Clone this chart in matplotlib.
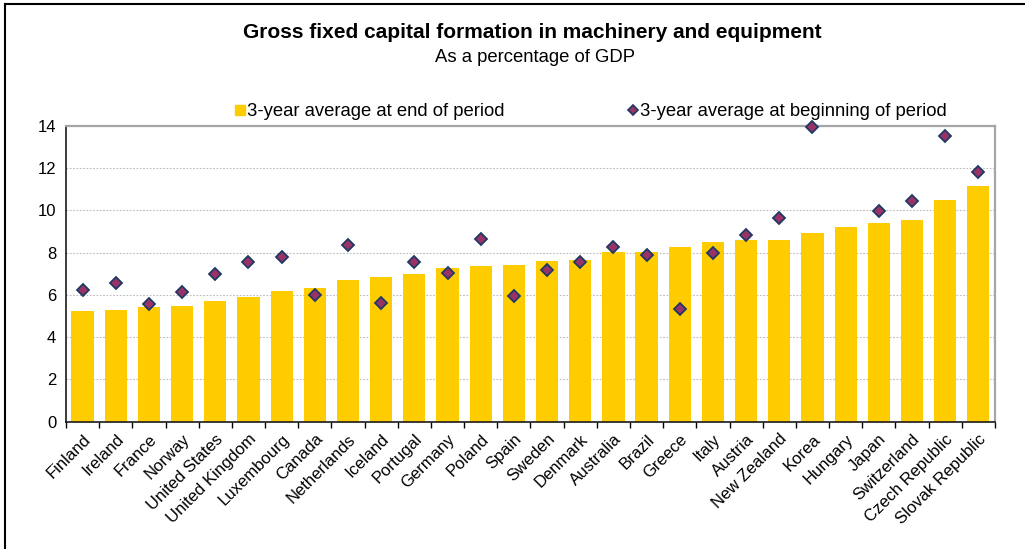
import matplotlib.pyplot as plt
import numpy as np
from matplotlib.lines import Line2D

plt.rcParams['font.family'] = ['Liberation Sans', 'DejaVu Sans']

countries = ['Finland', 'Ireland', 'France', 'Norway', 'United States', 'United Kingdom',
             'Luxembourg', 'Canada', 'Netherlands', 'Iceland', 'Portugal', 'Germany',
             'Poland', 'Spain', 'Sweden', 'Denmark', 'Australia', 'Brazil', 'Greece',
             'Italy', 'Austria', 'New Zealand', 'Korea', 'Hungary', 'Japan',
             'Switzerland', 'Czech Republic', 'Slovak Republic']
# 3-year average at end of period
end_avg = [5.24, 5.29, 5.43, 5.48, 5.71, 5.90, 6.19, 6.33, 6.71, 6.85, 6.99, 7.28,
           7.37, 7.42, 7.61, 7.65, 8.03, 8.03, 8.27, 8.51, 8.60, 8.60, 8.93, 9.22,
           9.41, 9.55, 10.50, 11.16]
# 3-year average at beginning of period (no value for Hungary)
begin_avg = [6.22, 6.55, 5.56, 6.12, 6.99, 7.58, 7.81, 6.01, 8.35, 5.62, 7.54, 7.04,
             8.65, 5.95, 7.18, 7.54, 8.29, 7.89, 5.35, 7.99, 8.85, 9.66, 13.94, np.nan,
             9.99, 10.46, 13.53, 11.82]

bar_col = '#FFCC00'
dia_face = '#993366'
dia_edge = '#1F3864'

fig = plt.figure(figsize=(10.25, 5.49), dpi=100)
ax = fig.add_axes([0.0644, 0.2319, 0.9063, 0.5386])

x = np.arange(len(countries))
ax.bar(x, end_avg, width=0.67, color=bar_col, zorder=2)
ax.plot(x, begin_avg, linestyle='none', marker='D', markersize=5.8,
        markerfacecolor=dia_face, markeredgecolor=dia_edge, markeredgewidth=1.3,
        zorder=3, clip_on=False)

ax.set_xlim(-0.5, len(countries) - 0.5)
ax.set_ylim(0, 14)
ax.set_yticks(range(0, 15, 2))
ax.tick_params(axis='y', length=0, pad=7, labelsize=12)
ax.yaxis.grid(True, linestyle=(0, (1.5, 1.5)), color='#BBBBBB', linewidth=0.8, zorder=0)
ax.set_axisbelow(True)

ax.set_xticks(x)
ax.set_xticklabels(countries, rotation=45, ha='right', va='top',
                   rotation_mode='anchor', fontsize=12)
ax.tick_params(axis='x', which='major', length=0, pad=7)
ax.set_xticks(np.arange(-0.5, len(countries), 1), minor=True)
ax.tick_params(axis='x', which='minor', length=4, width=1, direction='out')

for side in ('top', 'right'):
    ax.spines[side].set_color('#A6A6A6')
    ax.spines[side].set_linewidth(1.6)
for side in ('left', 'bottom'):
    ax.spines[side].set_color('#1A1A1A')
    ax.spines[side].set_linewidth(1.2)

# titles
fig.text(0.519, 1 - 30 / 549, 'Gross fixed capital formation in machinery and equipment',
         ha='center', va='center_baseline', fontsize=15, fontweight='bold')
fig.text(0.522, 1 - 55 / 549, 'As a percentage of GDP', ha='center',
         va='center_baseline', fontsize=13.3)

# legend
ly = 1 - 110 / 549
fig.add_artist(Line2D([240 / 1025], [ly], marker='s', markersize=6.5, color=bar_col,
                      linestyle='none', transform=fig.transFigure))
fig.text(247 / 1025, ly, '3-year average at end of period', ha='left',
         va='center_baseline', fontsize=13.3)
fig.add_artist(Line2D([633 / 1025], [ly], marker='D', markersize=5.3,
                      markerfacecolor=dia_face, markeredgecolor=dia_edge,
                      markeredgewidth=1.2, linestyle='none', transform=fig.transFigure))
fig.text(640 / 1025, ly, '3-year average at beginning of period', ha='left',
         va='center_baseline', fontsize=13.3)

# outer frame lines (top and left)
fig.add_artist(Line2D([5 / 1025, 1], [1 - 4 / 549, 1 - 4 / 549], color='black',
                      linewidth=1.5, transform=fig.transFigure))
fig.add_artist(Line2D([5 / 1025, 5 / 1025], [0, 1 - 4 / 549], color='black',
                      linewidth=1.5, transform=fig.transFigure))

fig.savefig('out.png', dpi=100)
